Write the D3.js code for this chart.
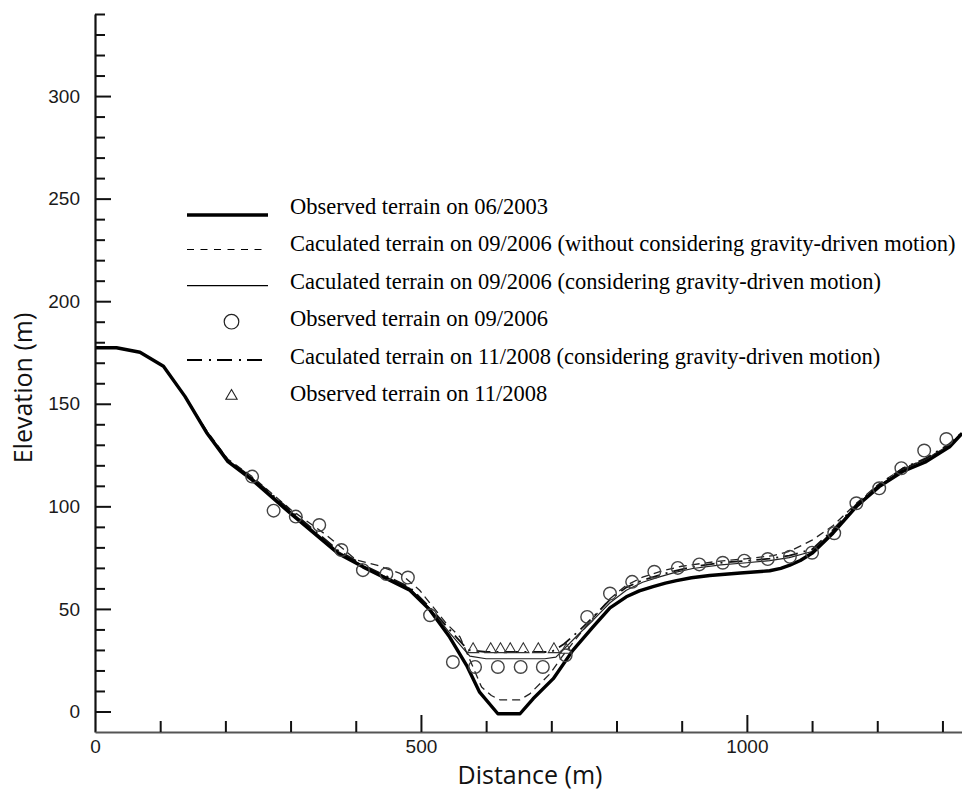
<!DOCTYPE html>
<html>
<head>
<meta charset="utf-8">
<script src="https://cdn.jsdelivr.net/npm/d3@7/dist/d3.min.js"></script>
<style>
  html, body { margin: 0; padding: 0; background: #fff; }
  svg { display: block; }
</style>
</head>
<body>
<svg id="chart" width="962" height="792"></svg>
<script>
// ---------------- DATA ----------------
// Observed terrain on 06/2003 (distance m, elevation m)
const obs2003Dist = [0, 33, 69, 105, 138, 171, 204, 241, 300, 373, 411, 483, 514, 544, 570, 590, 618, 652, 672, 703, 733, 764, 790, 815, 835, 856, 875, 892, 915, 943, 990, 1035, 1052, 1065, 1082, 1101, 1132, 1168, 1203, 1239, 1275, 1311, 1330];
const obs2003Elev = [177.3, 177.3, 175.1, 168.3, 153.6, 136, 121.8, 112.9, 96.5, 77, 70.5, 59.1, 49.4, 36.3, 22.5, 9.4, -1.1, -1.1, 6.2, 16, 29.8, 41.2, 50.5, 55.9, 58.8, 60.9, 62.6, 63.8, 65.2, 66.3, 67.5, 68.6, 69.8, 71.2, 73.6, 77.4, 86.9, 99.9, 109.6, 117, 121.8, 129, 135.5];

// Calculated terrain on 09/2006 (without gravity-driven motion)
const calcNoG2006Dist = [0, 33, 69, 105, 138, 171, 204, 241, 300, 355, 401, 432, 468, 498, 539, 560, 593, 608, 621, 652, 667, 698, 718, 736, 764, 790, 815, 840, 870, 900, 950, 1000, 1040, 1065, 1100, 1132, 1168, 1203, 1239, 1275, 1311, 1330];
const calcNoG2006Elev = [177.3, 177.3, 175.1, 168.3, 153.6, 137, 123, 114.5, 98.5, 86, 73.8, 71.4, 67.3, 59.1, 42.9, 36.3, 11.9, 7.8, 5.7, 5.7, 8.6, 18.4, 27.4, 34.7, 45.5, 55, 61.5, 65.5, 68.5, 70.8, 73, 74.5, 76, 78, 83.5, 90.5, 101.5, 111, 118.5, 123, 130, 136];

// Calculated terrain on 09/2006 (with gravity-driven motion)
const calcG2006Dist = [0, 33, 69, 105, 138, 171, 204, 241, 300, 373, 411, 483, 513, 545, 575, 600, 690, 707, 743, 764, 790, 815, 840, 866, 890, 917, 960, 1000, 1035, 1065, 1100, 1132, 1168, 1203, 1239, 1275, 1311, 1330];
const calcG2006Elev = [177.3, 177.3, 175.1, 168.3, 153.6, 136.5, 122.5, 113.8, 97.5, 78, 71, 60, 50.5, 38, 27, 25.7, 25.7, 26.5, 38, 44.5, 53, 59.1, 63, 65.6, 67.8, 69.7, 71.5, 72.5, 73.5, 75, 78, 88, 100.5, 110, 118, 123, 130, 135.8];

// Calculated terrain on 11/2008 (with gravity-driven motion)
const calcG2008Dist = [0, 33, 69, 105, 138, 171, 204, 241, 300, 373, 411, 483, 513, 545, 572, 600, 700, 720, 743, 764, 790, 815, 840, 866, 890, 917, 960, 1000, 1035, 1065, 1100, 1132, 1168, 1203, 1239, 1275, 1311, 1330];
const calcG2008Elev = [177.3, 177.3, 175.1, 168.3, 153.6, 136.5, 122.5, 114, 98, 78.5, 71.5, 60.5, 51, 39.5, 30, 29, 29, 33, 39.5, 46, 54.5, 60.5, 64, 66.5, 68.6, 70.5, 72.5, 73.5, 74.5, 76, 79, 88.5, 101, 110.5, 118.5, 123.5, 130.5, 136];

// Observed terrain on 09/2006 (circles)
const obs2006Dist = [241, 274, 308, 344, 378, 411, 447, 480, 514, 549, 583, 618, 653, 687, 722, 755, 790, 824, 858, 894, 927, 963, 996, 1032, 1066, 1100, 1134, 1168, 1203, 1237, 1272, 1306];
const obs2006Elev = [114.5, 97.9, 95.0, 90.9, 78.7, 68.9, 67.0, 65.3, 46.9, 24.1, 21.7, 21.7, 21.7, 21.7, 27.4, 46.1, 57.5, 63.2, 68.1, 70.0, 71.7, 72.5, 73.5, 74.3, 75.4, 77.4, 86.9, 101.5, 108.8, 118.6, 127.2, 132.8];

// Observed terrain on 11/2008 (triangles)
const obs2008Dist = [580, 607, 622, 637, 657, 680, 704, 723];
const obs2008Elev = [30.3, 30.3, 30.3, 30.3, 30.3, 30.3, 30.3, 30.0];

// Axis ticks
const xMajorTicks = [0, 500, 1000];
const xMinorTicks = [100, 200, 300, 400, 600, 700, 800, 900, 1100, 1200, 1300];
const yMajorTicks = [0, 50, 100, 150, 200, 250, 300];
const yMinorTicks = [10, 20, 30, 40, 60, 70, 80, 90, 110, 120, 130, 140, 160, 170, 180, 190, 210, 220, 230, 240, 260, 270, 280, 290, 310, 320, 330, 340];

const legendLabels = [
  "Observed terrain on 06/2003",
  "Caculated terrain on 09/2006 (without considering gravity-driven motion)",
  "Caculated terrain on 09/2006 (considering gravity-driven motion)",
  "Observed terrain on 09/2006",
  "Caculated terrain on 11/2008 (considering gravity-driven motion)",
  "Observed terrain on 11/2008"
];

// ---------------- DRAW ----------------
const svg = d3.select("#chart");
const x = d3.scaleLinear().domain([0, 1330]).range([95, 962]);
const y = d3.scaleLinear().domain([-10, 340]).range([732, 14]);

const zip = (a, b) => a.map((d, i) => [d, b[i]]);

svg.append("defs").append("clipPath").attr("id", "clip")
  .append("rect").attr("x", 95).attr("y", 0).attr("width", 867).attr("height", 732);

const line = d3.line().x(d => x(d[0])).y(d => y(d[1])).curve(d3.curveLinear);
const plot = svg.append("g").attr("clip-path", "url(#clip)");

const lineSeries = [
  {data: zip(calcNoG2006Dist, calcNoG2006Elev), w: 1.3, dash: "8,5", color: "#222"},
  {data: zip(calcG2006Dist, calcG2006Elev), w: 1.2, dash: null, color: "#222"},
  {data: zip(calcG2008Dist, calcG2008Elev), w: 1.8, dash: "14,6,2,6", color: "#111"},
  {data: zip(obs2003Dist, obs2003Elev), w: 3.4, dash: null, color: "#000"}
];
lineSeries.forEach(s => {
  plot.append("path").datum(s.data)
    .attr("d", line)
    .attr("fill", "none")
    .attr("stroke", s.color)
    .attr("stroke-width", s.w)
    .attr("stroke-dasharray", s.dash)
    .attr("stroke-linejoin", "round");
});

plot.selectAll("circle.obs2006").data(zip(obs2006Dist, obs2006Elev)).enter()
  .append("circle").attr("class", "obs2006")
  .attr("cx", d => x(d[0])).attr("cy", d => y(d[1])).attr("r", 6.3)
  .attr("fill", "none").attr("stroke", "#444").attr("stroke-width", 1.4);

const tri = d3.symbol().type(d3.symbolTriangle).size(55);
plot.selectAll("path.obs2008").data(zip(obs2008Dist, obs2008Elev)).enter()
  .append("path").attr("class", "obs2008")
  .attr("transform", d => `translate(${x(d[0])},${y(d[1])})`)
  .attr("d", tri)
  .attr("fill", "none").attr("stroke", "#333").attr("stroke-width", 1.1);

// Axes
const axisFont = "'Liberation Sans', Arial, sans-serif";
const fmt = d3.format("d");
const yAxis = svg.append("g").attr("transform", "translate(95,0)")
  .call(d3.axisLeft(y).tickValues(yMajorTicks).tickFormat(fmt).tickSize(-16).tickSizeOuter(0).tickPadding(15));
const yMinor = svg.append("g").attr("transform", "translate(95,0)")
  .call(d3.axisLeft(y).tickValues(yMinorTicks).tickSize(-10).tickSizeOuter(0).tickFormat(""));
yMinor.select(".domain").remove();
const xAxis = svg.append("g").attr("transform", "translate(0,732)")
  .call(d3.axisBottom(x).tickValues(xMajorTicks).tickFormat(fmt).tickSize(-17).tickSizeOuter(0).tickPadding(8));
const xMinor = svg.append("g").attr("transform", "translate(0,732)")
  .call(d3.axisBottom(x).tickValues(xMinorTicks).tickSize(-11).tickSizeOuter(0).tickFormat(""));
xMinor.select(".domain").remove();
xAxis.selectAll(".tick").filter(d => d === 0).select("line").remove();

[yAxis, yMinor, xAxis, xMinor].forEach(g => {
  g.selectAll("line").attr("stroke", "#111").attr("stroke-width", 2);
  g.selectAll("text").attr("font-family", axisFont).attr("font-size", 19).attr("fill", "#1a1a1a");
});
yAxis.select(".domain").attr("stroke", "#111").attr("stroke-width", 2.2);
xAxis.select(".domain").attr("stroke", "#555").attr("stroke-width", 1.8);

// Axis titles
const titleFont = "'Open Sans', sans-serif";
svg.append("text").attr("x", 530).attr("y", 784).attr("text-anchor", "middle")
  .attr("font-family", titleFont).attr("font-size", 25).attr("fill", "#111")
  .text("Distance (m)");
svg.append("text").attr("transform", "translate(32,388) rotate(-90)").attr("text-anchor", "middle")
  .attr("font-family", titleFont).attr("font-size", 25).attr("fill", "#111")
  .text("Elevation (m)");

// Legend
const lg = svg.append("g");
const legendFont = "'Liberation Serif', 'Times New Roman', serif";
const symX0 = 187, symX1 = 268, symXc = 231.5, textX = 290;
const rowBase = i => 214 + 37.4 * i;
const rowSym = [215, 249.5, 285.7, 321.7, 360, 396];
const legendStyles = [
  {type: "line", w: 3.4, dash: null},
  {type: "line", w: 1.2, dash: "7,6.5"},
  {type: "line", w: 1.2, dash: null},
  {type: "circle"},
  {type: "line", w: 2, dash: "15,7,2,6"},
  {type: "tri"}
];
legendLabels.forEach((lab, i) => {
  const st = legendStyles[i];
  if (st.type === "line") {
    lg.append("line").attr("x1", symX0).attr("x2", symX1).attr("y1", rowSym[i]).attr("y2", rowSym[i])
      .attr("stroke", "#000").attr("stroke-width", st.w).attr("stroke-dasharray", st.dash);
  } else if (st.type === "circle") {
    lg.append("circle").attr("cx", symXc).attr("cy", rowSym[i]).attr("r", 7.3)
      .attr("fill", "none").attr("stroke", "#222").attr("stroke-width", 1.2);
  } else {
    lg.append("path").attr("transform", `translate(${symXc},${rowSym[i]})`).attr("d", tri)
      .attr("fill", "none").attr("stroke", "#222").attr("stroke-width", 1.1);
  }
  lg.append("text").attr("x", textX).attr("y", rowBase(i))
    .attr("font-family", legendFont).attr("font-size", 22.5).attr("fill", "#000")
    .text(lab);
});
</script>
</body>
</html>
